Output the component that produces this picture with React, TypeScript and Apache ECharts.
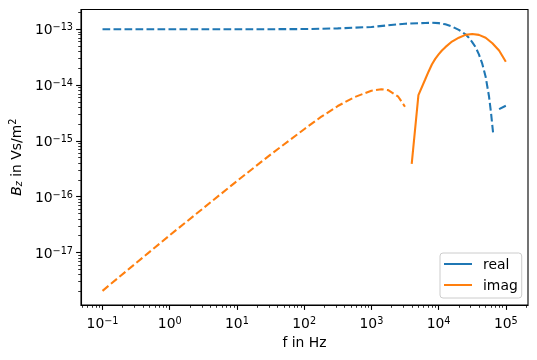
import React, { useEffect, useRef } from "react";
import * as echarts from "echarts";

// Frequencies in Hz and |B_z| in Vs/m^2
// Real part, negative values (plotted as |value|, dashed)
const realNegFreq = [0.1, 1, 10, 100, 316, 1000, 3160, 6310, 7940, 10000, 12600, 15800, 20000, 25100, 28200, 31600, 35500, 39800, 44700, 50100, 56200, 60300, 64600];
const realNegVal = [1.0e-13, 1.0e-13, 1.0e-13, 1.01e-13, 1.04e-13, 1.1e-13, 1.26e-13, 1.3e-13, 1.31e-13, 1.29e-13, 1.23e-13, 1.12e-13, 9.77e-14, 8.13e-14, 7.08e-14, 5.89e-14, 4.79e-14, 3.55e-14, 2.4e-14, 1.41e-14, 6.31e-15, 3.16e-15, 1.41e-15];
// Real part, positive values (solid)
const realPosFreq = [79400, 100000];
const realPosVal = [3.72e-15, 4.27e-15];
// Imaginary part, negative values (dashed)
const imagNegFreq = [0.1, 1, 10, 31.6, 100, 178, 316, 562, 1000, 1410, 1780, 2510, 3160];
const imagNegVal = [2.06e-18, 2.04e-17, 1.91e-16, 5.69e-16, 1.62e-15, 2.69e-15, 4.22e-15, 6.1e-15, 7.94e-15, 8.45e-15, 8.13e-15, 6.2e-15, 4.1e-15];
// Imaginary part, positive values (solid)
const imagPosFreq = [3980, 5010, 6310, 7080, 7940, 8910, 10000, 11200, 12600, 15800, 20000, 25100, 31600, 39800, 50100, 63100, 79400, 100000];
const imagPosVal = [3.89e-16, 6.61e-15, 1.26e-14, 1.74e-14, 2.34e-14, 2.95e-14, 3.55e-14, 4.17e-14, 4.79e-14, 6.03e-14, 7.08e-14, 7.94e-14, 8.22e-14, 7.94e-14, 7.08e-14, 5.62e-14, 4.17e-14, 2.63e-14];

// Axis decades (exponents of 10)
const xMajorExp = [-1, 0, 1, 2, 3, 4, 5];
const yMajorExp = [-17, -16, -15, -14, -13];
const X_MIN = -1.32;
const X_MAX = 5.33;
const Y_MIN = -17.94;
const Y_MAX = -12.645;

const BLUE = "#1f77b4";
const ORANGE = "#ff7f0e";
const FONT = "DejaVu Sans";
const FS = 13.9;
const SUP = 9.7;
const LW = 2.08;
const DASH = [7.7, 3.3];

function minorExps(lo: number, hi: number): number[] {
  const out: number[] = [];
  for (let n = Math.floor(lo) - 1; n <= Math.ceil(hi); n++) {
    for (let k = 2; k <= 9; k++) {
      const v = n + Math.log10(k);
      if (v > lo && v < hi) out.push(v);
    }
  }
  return out;
}

function toPts(f: number[], v: number[]) {
  return f.map((x, i) => [Math.log10(x), Math.log10(v[i])]);
}

function expLabel(v: number) {
  const e = Math.round(v);
  const s = e < 0 ? "\u2212" + -e : String(e);
  return `{a|10}{b|${s}}`;
}

const rich = {
  a: { fontFamily: FONT, fontSize: FS, color: "#000", lineHeight: 15 },
  b: { fontFamily: FONT, fontSize: SUP, color: "#000", lineHeight: 8, verticalAlign: "top" },
};

export default function App() {
  const ref = useRef<HTMLDivElement>(null);
  useEffect(() => {
    document.body.style.margin = "0";
    const chart = echarts.init(ref.current!, null, { renderer: "svg" });
    const axisLineStyle = { color: "#000", width: 1.1 };
    const minorStyle = { color: "#000", width: 0.8 };
    chart.setOption({
      animation: false,
      grid: {
        left: 81,
        right: 9,
        top: 9.5,
        bottom: 55,
        show: true,
        borderColor: "#000",
        borderWidth: 1.1,
        backgroundColor: "transparent",
        outerBoundsMode: "none",
      },
      legend: {
        data: [
          { name: "real", icon: "rect" },
          { name: "imag", icon: "rect" },
        ],
        left: 440,
        top: 253,
        orient: "vertical",
        padding: [4, 4, 6, 4],
        itemWidth: 28,
        itemHeight: 2,
        itemGap: 7,
        backgroundColor: "rgba(255,255,255,0.8)",
        borderColor: "#cccccc",
        borderWidth: 1,
        borderRadius: 3,
        textStyle: { fontFamily: FONT, fontSize: FS, lineHeight: 14, color: "#000", padding: [0, 0, 0, 6] },
      },
      xAxis: [
        {
          type: "value",
          min: X_MIN,
          max: X_MAX,
          position: "bottom",
          axisLine: { show: true, onZero: false, lineStyle: axisLineStyle },
          axisTick: { show: true, length: 4.9, lineStyle: axisLineStyle, customValues: xMajorExp },
          axisLabel: { customValues: xMajorExp, formatter: expLabel, rich, margin: 10 },
          splitLine: { show: false },
          name: "f in Hz",
          nameLocation: "middle",
          nameGap: 30,
          nameTextStyle: { fontFamily: FONT, fontSize: FS, color: "#000" },
        },
        {
          type: "value",
          min: X_MIN,
          max: X_MAX,
          position: "bottom",
          offset: 0,
          axisLine: { show: false, onZero: false },
          axisTick: { show: true, length: 2.8, lineStyle: minorStyle, customValues: minorExps(X_MIN, X_MAX) },
          axisLabel: { show: false },
          splitLine: { show: false },
        },
      ],
      yAxis: [
        {
          type: "value",
          min: Y_MIN,
          max: Y_MAX,
          position: "left",
          axisLine: { show: true, onZero: false, lineStyle: axisLineStyle },
          axisTick: { show: true, length: 4.9, lineStyle: axisLineStyle, customValues: yMajorExp },
          axisLabel: { customValues: yMajorExp, formatter: expLabel, rich, margin: 8 },
          splitLine: { show: false },
          name: "{i|B}{s|z}{n| in Vs/m}{p|2}",
          nameLocation: "middle",
          nameGap: 52,
          nameRotate: 90,
          nameTextStyle: {
            rich: {
              i: { fontFamily: FONT, fontSize: FS, fontStyle: "italic", color: "#000", lineHeight: 16 },
              s: { fontFamily: FONT, fontSize: SUP, fontStyle: "italic", color: "#000", lineHeight: 8, verticalAlign: "bottom" },
              n: { fontFamily: FONT, fontSize: FS, color: "#000", lineHeight: 16 },
              p: { fontFamily: FONT, fontSize: SUP, color: "#000", lineHeight: 8, verticalAlign: "top" },
            },
          },
        },
        {
          type: "value",
          min: Y_MIN,
          max: Y_MAX,
          position: "left",
          offset: 0,
          axisLine: { show: false, onZero: false },
          axisTick: { show: true, length: 2.8, lineStyle: minorStyle, customValues: minorExps(Y_MIN, Y_MAX) },
          axisLabel: { show: false },
          splitLine: { show: false },
        },
      ],
      series: [
        {
          name: "realNeg",
          type: "line",
          data: toPts(realNegFreq, realNegVal),
          symbol: "none",
          lineStyle: { color: BLUE, width: LW, type: DASH },
          itemStyle: { color: BLUE },
          z: 2,
        },
        {
          name: "real",
          type: "line",
          data: toPts(realPosFreq, realPosVal),
          symbol: "none",
          lineStyle: { color: BLUE, width: LW, type: "solid" },
          itemStyle: { color: BLUE },
          z: 2,
        },
        {
          name: "imagNeg",
          type: "line",
          data: toPts(imagNegFreq, imagNegVal),
          symbol: "none",
          lineStyle: { color: ORANGE, width: LW, type: DASH },
          itemStyle: { color: ORANGE },
          z: 3,
        },
        {
          name: "imag",
          type: "line",
          data: toPts(imagPosFreq, imagPosVal),
          symbol: "none",
          lineStyle: { color: ORANGE, width: LW, type: "solid" },
          itemStyle: { color: ORANGE },
          z: 3,
        },
      ],
    });
    return () => chart.dispose();
  }, []);
  return <div ref={ref} style={{ position: "fixed", left: 0, top: 0, width: 537, height: 360 }} />;
}
